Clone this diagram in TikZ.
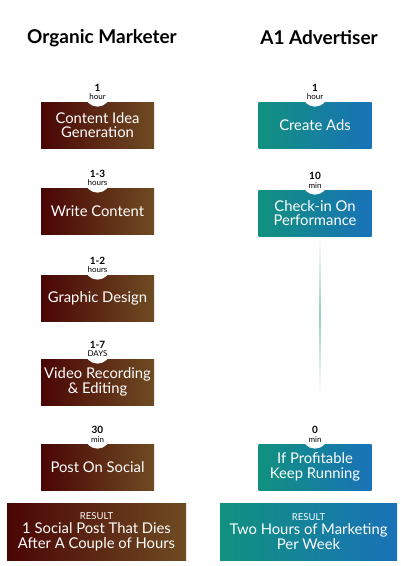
\documentclass[tikz,border=0pt]{standalone}
\usepackage{fontspec}
\setmainfont{Lato}
\usetikzlibrary{positioning}

\definecolor{maroonA}{HTML}{4A0505}
\definecolor{brownB}{HTML}{6E4B22}
\definecolor{tealA}{HTML}{10917F}
\definecolor{blueB}{HTML}{1A72B8}

\begin{document}
\begin{tikzpicture}[x=1pt, y=-1pt,
  organic/.style={minimum width=113pt, minimum height=46pt, inner sep=0pt,
    left color=maroonA, right color=brownB, text=white, align=center,
    font=\fontsize{14.8}{14.5}\selectfont},
  advert/.style={organic, left color=tealA, right color=blueB},
  bubble/.style={circle, fill=white, minimum size=26pt, inner sep=0pt},
  timelbl/.style={align=center, inner sep=0pt, font=\fontsize{8}{8.5}\selectfont},
  heading/.style={font=\fontsize{19}{19}\selectfont\bfseries}]
\useasboundingbox (0,0) rectangle (400,566);

% Column headings
\node[heading] (hleft) at (102,38) {Organic Marketer};
\node[heading] (hright) at (319,38) {A1 Advertiser};

% Organic marketer steps
\foreach \n/\y/\txt/\num/\unit in {
    1/125/{Content Idea\\Generation}/1/hour,
    2/211/{Write Content}/1-3/hours,
    3/298/{Graphic Design}/1-2/hours,
    4/382/{Video Recording\\\& Editing}/1-7/DAYS,
    5/467/{Post On Social}/30/min} {
  \node[organic] (o\n) at (97.5,\y) {\txt};
  \node[bubble, above=-5pt of o\n.north] (ob\n) {};
  \node[timelbl] (ot\n) at ([yshift=1.5pt]ob\n.center)
    {{\fontsize{10}{10}\selectfont\bfseries \num}\\\unit};
}

% A1 advertiser steps
\foreach \n/\y/\txt/\num/\unit in {
    1/125/{Create Ads}/1/hour,
    2/213/{Check-in On\\Performance}/10/min,
    3/467/{If Profitable\\Keep Running}/0/min} {
  \node[advert] (a\n) at (315,\y) {\txt};
  \node[bubble, above=-5pt of a\n.north] (ab\n) {};
  \node[timelbl] (at\n) at ([yshift=1.5pt]ab\n.center)
    {{\fontsize{10}{10}\selectfont\bfseries \num}\\\unit};
}

% Faded waiting line
\shade[top color=white, bottom color=white, middle color=tealA!45]
  (319.4,237) rectangle (320.6,393);

% Results
\node[organic, minimum width=179pt, minimum height=57pt] (oresult) at (96.5,531.5)
  {{\fontsize{9.5}{11}\selectfont RESULT}\\1 Social Post That Dies\\After A Couple of Hours};
\node[advert, minimum width=177pt, minimum height=57pt] (aresult) at (308.5,531.5)
  {{\fontsize{9.5}{11}\selectfont RESULT}\\Two Hours of Marketing\\Per Week};
\end{tikzpicture}
\end{document}
